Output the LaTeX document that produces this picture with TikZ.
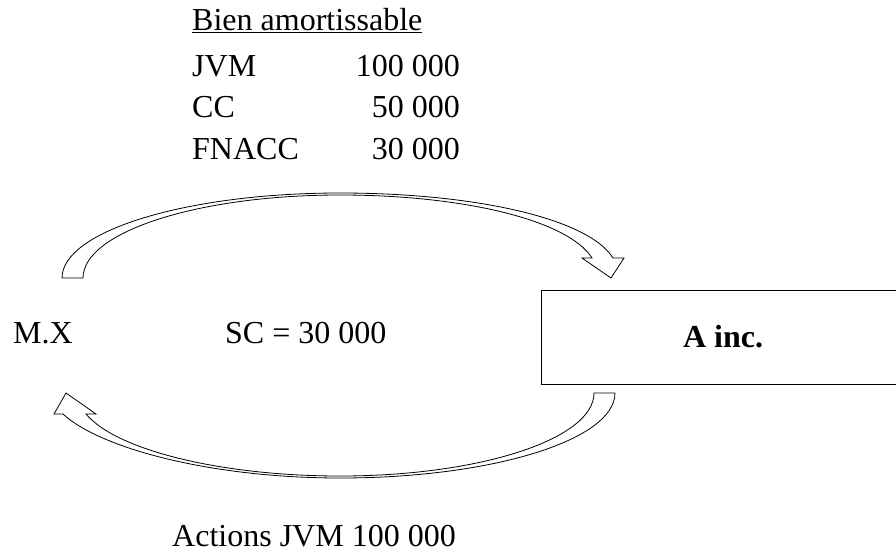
\documentclass[tikz,border=0pt]{standalone}
\usepackage{fontspec}
\setmainfont{Liberation Serif}
\usetikzlibrary{positioning}

\begin{document}
\begin{tikzpicture}[x=1pt, y=-1pt,
                every node/.style={inner sep=0pt, font=\fontsize{32}{38}\selectfont},
                lbl/.style={anchor=base west},
                num/.style={anchor=base east},
                blockarrow/.style={draw, fill=white, line width=0.8pt, line join=miter},
                firm/.style={draw, line width=0.8pt, minimum width=364pt, minimum height=94pt, font=\fontsize{32}{38}\selectfont\bfseries}]

    \useasboundingbox (0,0) rectangle (896,554); % page size of the reference

    % asset transferred
    \node [lbl] (titre) at (192,30) {\underline{Bien amortissable}};
    \node [lbl] (jvm)   at (192,76)  {JVM};
    \node [num] (vjvm)  at (460,76)  {100 000};
    \node [lbl] (cc)    at (192,117) {CC};
    \node [num] (vcc)   at (460,117) {50 000};
    \node [lbl] (fnacc) at (192,159) {FNACC};
    \node [num] (vfn)   at (460,159) {30 000};

    % parties
    \node [lbl]  (mx)  at (13,343)  {M.X};
    \node [lbl]  (sc)  at (225,343) {SC = 30 000};
    \node [firm] (ainc) at (723,337) {A inc.};

    % consideration
    \node [lbl] (act) at (172,546) {Actions JVM 100 000};

    % curved block arrow, M.X to A inc.
    \draw [blockarrow] (62,278) .. controls (62,231) and (187,193) .. (340,193)
        .. controls (473,193) and (588,218) .. (613,258) -- (624,258) -- (611,278)
        -- (582,258) -- (592,258) .. controls (568,220) and (463,195) .. (340,195)
        .. controls (198,195) and (83,232) .. (83,278) -- cycle;

    % curved block arrow, A inc. to M.X
    \draw [blockarrow] (615,393) .. controls (615,440) and (492,478) .. (340,478)
        .. controls (213,478) and (101,449) .. (63,414) -- (54,414) -- (66,393)
        -- (96,414) -- (86,414) .. controls (116,450) and (221,476) .. (340,476)
        .. controls (480,476) and (594,439) .. (594,393) -- cycle;

\end{tikzpicture}
\end{document}
